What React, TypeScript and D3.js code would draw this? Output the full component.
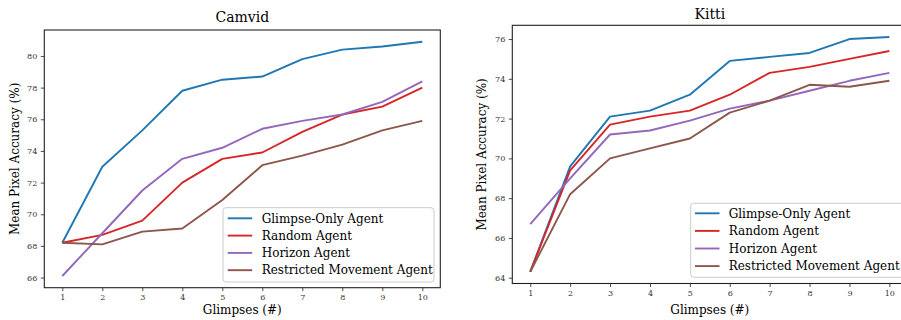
import React, { useEffect, useRef } from 'react';
import * as d3 from 'd3';

// glimpse counts on the x axis
const glimpses = [1, 2, 3, 4, 5, 6, 7, 8, 9, 10];

const agentNames = ['Glimpse-Only Agent', 'Random Agent', 'Horizon Agent', 'Restricted Movement Agent'];
const agentColors = ['#1f77b4', '#d62728', '#9467bd', '#8c564b'];

// Camvid series
const camvidGlimpseOnly = [68.2, 73.0, 75.3, 77.8, 78.5, 78.7, 79.8, 80.4, 80.6, 80.9];
const camvidRandom = [68.2, 68.7, 69.6, 72.0, 73.5, 73.9, 75.2, 76.3, 76.8, 78.0];
const camvidHorizon = [66.1, 68.8, 71.5, 73.5, 74.2, 75.4, 75.9, 76.3, 77.1, 78.4];
const camvidRestricted = [68.2, 68.1, 68.9, 69.1, 70.9, 73.1, 73.7, 74.4, 75.3, 75.9];
const camvidTicks = [66, 68, 70, 72, 74, 76, 78, 80];

// Kitti series
const kittiGlimpseOnly = [64.3, 69.6, 72.1, 72.4, 73.2, 74.9, 75.1, 75.3, 76.0, 76.1];
const kittiRandom = [64.3, 69.4, 71.7, 72.1, 72.4, 73.2, 74.3, 74.6, 75.0, 75.4];
const kittiHorizon = [66.7, 69.0, 71.2, 71.4, 71.9, 72.5, 72.9, 73.4, 73.9, 74.3];
const kittiRestricted = [64.3, 68.2, 70.0, 70.5, 71.0, 72.3, 72.9, 73.7, 73.6, 73.9];
const kittiTicks = [64, 66, 68, 70, 72, 74, 76];

const FONT = '"DejaVu Serif", serif';

type Panel = {
  title: string;
  series: number[][];
  ticks: number[];
  left: number; right: number; top: number; bottom: number;
  titleY: number;
  ylabelX: number;
  legend: { x0: number; x1: number; y0: number; y1: number; lineX: number; textX: number; rowY: number; step: number };
};

const drawPanel = (svg: d3.Selection<SVGSVGElement, unknown, null, undefined>, p: Panel) => {
  const g = svg.append('g');
  const all = p.series.flat();
  const lo = d3.min(all)!, hi = d3.max(all)!;
  const pad = (hi - lo) * 0.05;

  const x = d3.scaleLinear().domain([1 - 0.45, 10 + 0.45]).range([p.left, p.right]);
  const y = d3.scaleLinear().domain([lo - pad, hi + pad]).range([p.bottom, p.top]);

  // lines
  const line = d3.line<number>().x((_, i) => x(glimpses[i])).y(d => y(d));
  p.series.forEach((s, i) => {
    g.append('path')
      .attr('d', line(s))
      .attr('fill', 'none')
      .attr('stroke', agentColors[i])
      .attr('stroke-width', 1.9)
      .attr('stroke-linejoin', 'round');
  });

  // axes
  const xAxis = g.append('g')
    .attr('transform', `translate(0,${p.bottom})`)
    .call(d3.axisBottom(x).tickValues(glimpses).tickSize(3.5).tickPadding(3.5).tickFormat(d3.format('d')));
  const yAxis = g.append('g')
    .attr('transform', `translate(${p.left},0)`)
    .call(d3.axisLeft(y).tickValues(p.ticks).tickSize(3.5).tickPadding(3.5).tickFormat(d3.format('d')));
  [xAxis, yAxis].forEach(a => {
    a.select('.domain').remove();
    a.selectAll('line').attr('stroke', '#222').attr('stroke-width', 0.8);
    a.selectAll('text').attr('font-family', FONT).attr('font-size', 8).attr('fill', '#333');
  });

  // frame
  g.append('rect')
    .attr('x', p.left).attr('y', p.top)
    .attr('width', p.right - p.left).attr('height', p.bottom - p.top)
    .attr('fill', 'none').attr('stroke', '#222').attr('stroke-width', 1.1);

  // title & labels
  g.append('text')
    .attr('x', (p.left + p.right) / 2).attr('y', p.titleY)
    .attr('text-anchor', 'middle').attr('font-family', FONT).attr('font-size', 14)
    .text(p.title);
  g.append('text')
    .attr('x', x(5.5)).attr('y', 314)
    .attr('text-anchor', 'middle').attr('font-family', FONT).attr('font-size', 12)
    .text('Glimpses (#)');
  g.append('text')
    .attr('transform', `translate(${p.ylabelX},${(p.top + p.bottom) / 2}) rotate(-90)`)
    .attr('text-anchor', 'middle').attr('dy', '0.35em').attr('font-family', FONT).attr('font-size', 12)
    .text('Mean Pixel Accuracy (%)');

  // legend
  const L = p.legend;
  g.append('rect')
    .attr('x', L.x0).attr('y', L.y0).attr('width', L.x1 - L.x0).attr('height', L.y1 - L.y0)
    .attr('rx', 3).attr('fill', 'white').attr('fill-opacity', 0.8)
    .attr('stroke', '#ccc').attr('stroke-width', 1);
  agentNames.forEach((name, i) => {
    const yy = L.rowY + i * L.step;
    g.append('line')
      .attr('x1', L.lineX).attr('x2', L.lineX + 24.5).attr('y1', yy).attr('y2', yy)
      .attr('stroke', agentColors[i]).attr('stroke-width', 1.9);
    g.append('text')
      .attr('x', L.textX).attr('y', yy).attr('dy', '0.35em')
      .attr('font-family', FONT).attr('font-size', 12)
      .text(name);
  });
};

const App = () => {
  const ref = useRef<SVGSVGElement>(null);

  useEffect(() => {
    if (!ref.current) return;
    const svg = d3.select(ref.current);
    svg.selectAll('*').remove();

    drawPanel(svg, {
      title: 'Camvid',
      series: [camvidGlimpseOnly, camvidRandom, camvidHorizon, camvidRestricted],
      ticks: camvidTicks,
      left: 44.3, right: 440.3, top: 30, bottom: 287.7,
      titleY: 22,
      ylabelX: 15,
      legend: { x0: 223, x1: 434, y0: 207.7, y1: 282, lineX: 227.7, textX: 261.7, rowY: 218.3, step: 17.3 },
    });
    drawPanel(svg, {
      title: 'Kitti',
      series: [kittiGlimpseOnly, kittiRandom, kittiHorizon, kittiRestricted],
      ticks: kittiTicks,
      left: 512.3, right: 907.3, top: 25.3, bottom: 283.5,
      titleY: 19,
      ylabelX: 482,
      legend: { x0: 690.7, x1: 904, y0: 203.3, y1: 277.3, lineX: 695, textX: 728.7, rowY: 213.3, step: 17.6 },
    });
  }, []);

  return (
    <svg
      ref={ref}
      width={901}
      height={320}
      style={{ position: 'absolute', left: 0, top: 0, background: 'white' }}
    />
  );
};

export default App;
